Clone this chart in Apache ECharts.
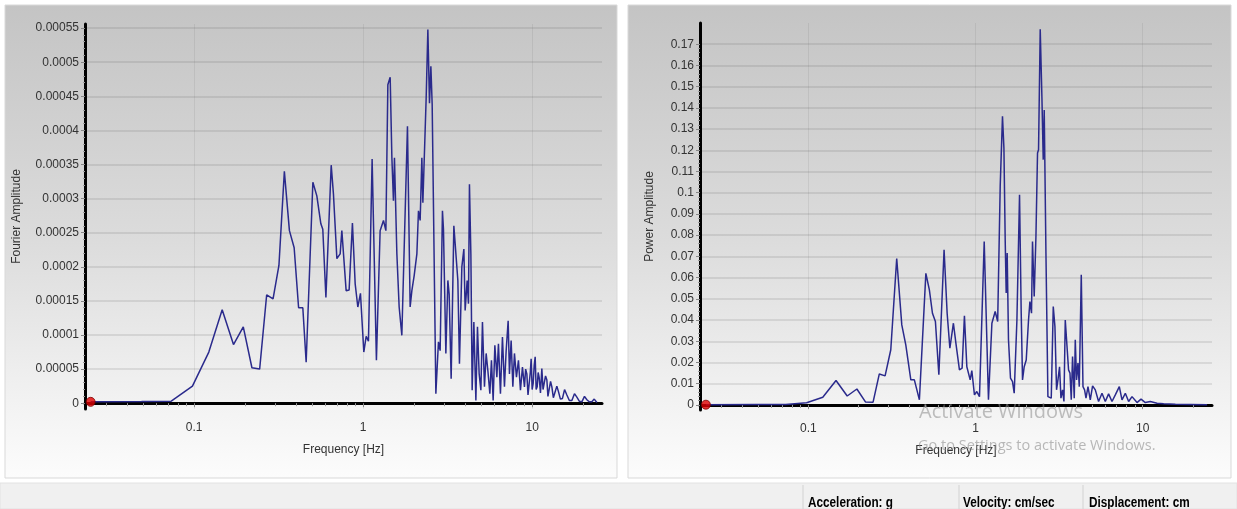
<!DOCTYPE html>
<html><head><meta charset="utf-8">
<script src="https://cdn.jsdelivr.net/npm/echarts@6/dist/echarts.min.js"></script>
<style>html,body{margin:0;padding:0;background:#fff;}#c{width:1237px;height:509px;}</style>
</head><body><div id="c"></div>
<script>
// ---------- DATA ----------
const fourierFreq = [0.0244,0.0488,0.0732,0.0977,0.1221,0.1465,0.1709,0.1953,0.2197,0.2441,0.2686,0.293,0.3174,0.3418,0.3662,0.3906,0.415,0.4395,0.46,
 0.504,0.532,0.562,0.577,0.602,0.647,0.667,0.699,0.731,0.748,0.793,0.826,0.864,0.897,0.93,0.964,1.009,1.042,1.075,1.13,1.198,1.26,1.319,1.363,1.40,1.445,1.479,1.511,1.532,1.583,1.633,1.694,1.829,1.897,1.942,2.004,2.079,2.125,2.174,2.225,2.256,2.36,2.415,2.469,2.516,2.561,2.693,2.79,2.855,2.946,2.987,3.086,3.171,3.228,3.317,3.441,3.536,3.634,3.714,3.837,3.944,4.014,4.125,4.199,4.256,4.339,4.416,4.519,4.645,4.747,4.858,4.972,5.081,5.222,5.344,5.469,5.62,5.744,5.878,6.016,6.182,6.318,6.492,6.672,6.856,7.017,7.211,7.34,7.511,7.687,7.857,8.074,8.297,8.527,8.762,9.004,9.15,9.302,9.45,9.60,9.75,9.864,10.0,10.14,10.28,10.42,10.56,10.71,10.85,11.0,11.2,11.41,11.6,11.78,12.0,12.22,12.4,12.61,12.85,13.08,13.35,13.68,14.0,14.31,14.7,15.11,15.55,16.05,16.6,17.18,17.8,18.39,19.0,19.69,20.4,21.08,21.8,22.56,23.3,24.15];
const fourierAmp = [0.000002,0.0000025,0.000003,0.000025,0.000075,0.000137,0.000086,0.000112,0.000052,0.00005,0.000159,0.000153,0.000202,0.00034,0.000253,0.000228,0.00014,0.00014,0.00006,
 0.000324,0.000304,0.000263,0.000255,0.000155,0.000349,0.000307,0.000212,0.000219,0.000253,0.000165,0.000166,0.000264,0.000175,0.000141,0.000161,0.000075,0.000098,0.000091,0.000358,0.000063,0.000253,0.000268,0.000253,0.000467,0.000478,0.00036,0.000297,0.00036,0.000219,0.000141,0.0000995,0.000406,0.000141,0.000165,0.000187,0.000219,0.000282,0.000268,0.00036,0.000294,0.000448,0.000548,0.00044,0.000494,0.000438,0.000014,0.00009,0.000077,0.000282,0.000255,0.000073,0.00018,0.00016,0.000036,0.00026,0.000258,0.00018,0.000058,0.0002,0.000226,0.000136,0.00018,0.000146,0.000321,0.000219,0.000019,0.000119,0.000004,0.000112,0.000043,0.000019,0.000119,0.000024,0.000073,0.000048,0.000014,0.000063,0.000004,0.000085,0.000038,0.000087,0.000014,0.000097,0.000024,0.000077,0.000121,0.000043,0.000092,0.000024,0.000073,0.000038,0.000063,0.000019,0.000053,0.000024,0.00005,0.000043,0.000012,0.000014,0.000045,0.000065,0.00002,0.000029,0.000055,0.000068,0.00002,0.000024,0.000045,0.000038,0.000015,0.000051,0.00002,0.000019,0.00004,0.000034,0.00001,0.000012,0.000032,0.000024,0.000008,0.000009,0.000025,0.000017,0.000006,0.000007,0.00002,0.000012,0.000004,0.000004,0.000014,0.000009,0.000003,0.000002,0.00001,0.000005,0.000002,0.000002,0.000006,0.000001];

const powerFreq = [0.0244,0.0488,0.0732,0.0977,0.1221,0.1465,0.1709,0.1953,0.2197,0.2441,0.266,0.288,0.3115,0.338,0.3625,0.383,0.4105,0.431,0.462,0.505,0.53,0.553,0.576,0.604,0.649,0.677,0.703,0.738,0.766,0.802,0.832,0.859,0.888,0.93,0.951,0.986,1.019,1.057,1.128,1.196,1.254,1.312,1.358,1.406,1.451,1.48,1.506,1.527,1.548,1.576,1.62,1.666,1.705,1.77,1.835,1.878,1.912,1.957,2.012,2.077,2.117,2.164,2.194,2.246,2.3,2.351,2.384,2.44,2.498,2.543,2.578,2.64,2.713,2.774,2.84,2.92,2.988,3.055,3.115,3.184,3.246,3.319,3.383,3.445,3.527,3.605,3.676,3.742,3.809,3.899,3.954,4.025,4.104,4.178,4.295,4.397,4.495,4.583,4.711,4.862,5.019,5.21,5.452,5.714,5.98,6.258,6.558,6.864,7.253,7.528,7.879,8.246,8.64,9.258,9.781,10.38,11.12,12.2,13.36,15.7,19.3,24.3];
const powerAmp = [0.0001,0.0002,0.0002,0.001,0.0036,0.0115,0.0042,0.0075,0.0014,0.0013,0.0146,0.0137,0.026,0.069,0.0377,0.0283,0.0118,0.0118,0.0024,0.062,0.0542,0.0432,0.0393,0.0142,0.0731,0.0432,0.0267,0.0385,0.0283,0.0165,0.0173,0.042,0.018,0.0118,0.0162,0.0047,0.0063,0.0039,0.077,0.0024,0.0385,0.044,0.0393,0.103,0.136,0.121,0.0778,0.0527,0.0716,0.0307,0.0126,0.011,0.0055,0.04,0.099,0.0432,0.0118,0.018,0.0212,0.04,0.0487,0.0432,0.077,0.0511,0.0794,0.1187,0.1203,0.177,0.1447,0.1156,0.139,0.0716,0.0039,0.0047,0.0032,0.0464,0.0369,0.0071,0.0118,0.018,0.0032,0.0071,0.0016,0.04,0.0393,0.0165,0.015,0.0024,0.0228,0.0032,0.0307,0.0118,0.0197,0.0086,0.0613,0.0086,0.0071,0.0032,0.0086,0.0024,0.009,0.0071,0.0016,0.0055,0.0016,0.0052,0.0016,0.0047,0.0086,0.0024,0.0055,0.0016,0.0039,0.0011,0.0027,0.0011,0.0016,0.0008,0.0005,0.0003,0.0002,0.0001];

const fourierTicks = [0,0.00005,0.0001,0.00015,0.0002,0.00025,0.0003,0.00035,0.0004,0.00045,0.0005,0.00055];
const powerTicks = [0,0.01,0.02,0.03,0.04,0.05,0.06,0.07,0.08,0.09,0.1,0.11,0.12,0.13,0.14,0.15,0.16,0.17];
const freqTicks = [0.1,1,10];
const freqMinorTicks = [0.03,0.04,0.05,0.06,0.07,0.08,0.09,0.2,0.3,0.4,0.5,0.6,0.7,0.8,0.9,2,3,4,5,6,7,8,9,20];

// ---------- BUILD ----------
function pairs(xs, ys){ return xs.map((x,i)=>[x, ys[i]]); }
function minorOf(ticks, n){
  const out=[]; for(let i=0;i<ticks.length-1;i++){ const a=ticks[i], b=ticks[i+1]; for(let k=1;k<n;k++) out.push(a+(b-a)*k/n); }
  return out;
}
const fmt = v => v===0 ? '0' : String(+v.toFixed(6));
const FONT = "'Liberation Sans', Arial, sans-serif";
const splitCol = 'rgba(80,80,80,0.13)';

function xAxes(grid, min, max){
  return [{
    type:'log', gridIndex:grid, min:min, max:max, position:'bottom',
    name:'Frequency [Hz]', nameLocation:'middle', nameGap:35,
    nameTextStyle:{color:'#333', fontSize:12, fontFamily:FONT},
    axisLine:{show:true, lineStyle:{color:'#000', width:3}},
    axisTick:{show:true, customValues:freqTicks, length:4, lineStyle:{color:'#888'}},
    axisLabel:{customValues:freqTicks, color:'#333', fontSize:12, fontFamily:FONT, margin:13, formatter:v=>String(+v.toFixed(3))},
    splitLine:{show:true, lineStyle:{color:'rgba(80,80,80,0.10)', width:1}}
  },{
    type:'log', gridIndex:grid, min:min, max:max, position:'bottom',
    axisLine:{show:false}, axisLabel:{show:false}, splitLine:{show:false},
    axisTick:{show:true, customValues:freqMinorTicks, length:3, lineStyle:{color:'#999'}}
  }];
}
function yAxes(grid, min, max, ticks, name, gap){
  return [{
    type:'value', gridIndex:grid, min:min, max:max, position:'left',
    name:name, nameLocation:'middle', nameGap:gap, nameRotate:90,
    nameTextStyle:{color:'#333', fontSize:12, fontFamily:FONT},
    axisLine:{show:true, lineStyle:{color:'#000', width:3}},
    axisTick:{show:true, customValues:ticks, length:4, lineStyle:{color:'#888'}},
    axisLabel:{customValues:ticks, color:'#333', fontSize:12, fontFamily:FONT, margin:6, formatter:fmt},
    splitLine:{show:true, lineStyle:{color:splitCol, width:2}}
  },{
    type:'value', gridIndex:grid, min:min, max:max, position:'left',
    axisLine:{show:false}, axisLabel:{show:false}, splitLine:{show:false},
    axisTick:{show:true, customValues:minorOf(ticks,5), length:2, lineStyle:{color:'#999'}}
  }];
}

const chart = echarts.init(document.getElementById('c'), null, {renderer:'canvas'});
const fData = pairs(fourierFreq, fourierAmp);
const pData = pairs(powerFreq, powerAmp);

const panelGrad = {type:'linear', x:0, y:0, x2:0, y2:1, colorStops:[
  {offset:0, color:'#c4c4c4'},{offset:0.5, color:'#dcdcdc'},{offset:0.85, color:'#f3f3f3'},{offset:1, color:'#fcfcfc'}]};
const barFont = "bold 14px 'Liberation Sans', Arial, sans-serif";

chart.setOption({
  animation:false,
  backgroundColor:'#ffffff',
  grid:[
    {left:85, top:24, right:635, bottom:100},
    {left:700, top:23, right:25, bottom:99}
  ],
  xAxis:[...xAxes(0, 0.0226, 25.9), ...xAxes(1, 0.0225, 26)],
  yAxis:[...yAxes(0, -0.0000085, 0.000556, fourierTicks, 'Fourier Amplitude', 62),
         ...yAxes(1, -0.0024, 0.18, powerTicks, 'Power Amplitude', 44)],
  series:[
    {type:'line', xAxisIndex:0, yAxisIndex:0, data:fData, showSymbol:false, symbol:'none',
     lineStyle:{color:'#2a2a8c', width:1.5}, z:3},
    {type:'line', xAxisIndex:2, yAxisIndex:2, data:pData, showSymbol:false, symbol:'none',
     lineStyle:{color:'#2a2a8c', width:1.5}, z:3},
    {type:'scatter', xAxisIndex:0, yAxisIndex:0, data:[fData[0]], symbolSize:9, clip:false,
     itemStyle:{color:'#e00000', borderColor:'#7a0000', borderWidth:1}, z:5},
    {type:'scatter', xAxisIndex:2, yAxisIndex:2, data:[pData[0]], symbolSize:9, clip:false,
     itemStyle:{color:'#e00000', borderColor:'#7a0000', borderWidth:1}, z:5}
  ],
  graphic:[
    {type:'rect', z:-10, silent:true, shape:{x:5, y:5, width:612, height:473}, style:{fill:panelGrad, stroke:'#d9d9d9', lineWidth:1}},
    {type:'rect', z:-10, silent:true, shape:{x:628, y:5, width:603, height:473}, style:{fill:panelGrad, stroke:'#d9d9d9', lineWidth:1}},
    {type:'rect', z:-10, silent:true, shape:{x:0, y:483, width:1237, height:26}, style:{fill:'#f0f0f0', stroke:'#e2e2e2', lineWidth:1}},
    {type:'line', z:-9, silent:true, shape:{x1:803, y1:485, x2:803, y2:509}, style:{stroke:'#d2d2d2', lineWidth:1}},
    {type:'line', z:-9, silent:true, shape:{x1:959, y1:485, x2:959, y2:509}, style:{stroke:'#d2d2d2', lineWidth:1}},
    {type:'line', z:-9, silent:true, shape:{x1:1083, y1:485, x2:1083, y2:509}, style:{stroke:'#d2d2d2', lineWidth:1}},
    {type:'text', z:10, silent:true, x:808, y:503, scaleX:0.84, style:{text:'Acceleration: g', fill:'#000', font:barFont, verticalAlign:'middle'}},
    {type:'text', z:10, silent:true, x:963, y:503, scaleX:0.84, style:{text:'Velocity: cm/sec', fill:'#000', font:barFont, verticalAlign:'middle'}},
    {type:'text', z:10, silent:true, x:1089, y:503, scaleX:0.84, style:{text:'Displacement: cm', fill:'#000', font:barFont, verticalAlign:'middle'}},
    {type:'text', z:20, silent:true, x:919, y:412, style:{text:'Activate Windows', fill:'rgba(140,140,140,0.55)', font:"20px 'Open Sans', sans-serif", verticalAlign:'middle'}},
    {type:'text', z:20, silent:true, x:918, y:446, style:{text:'Go to Settings to activate Windows.', fill:'rgba(140,140,140,0.6)', font:"14.5px 'Open Sans', sans-serif", verticalAlign:'middle'}}
  ]
});
</script></body></html>
